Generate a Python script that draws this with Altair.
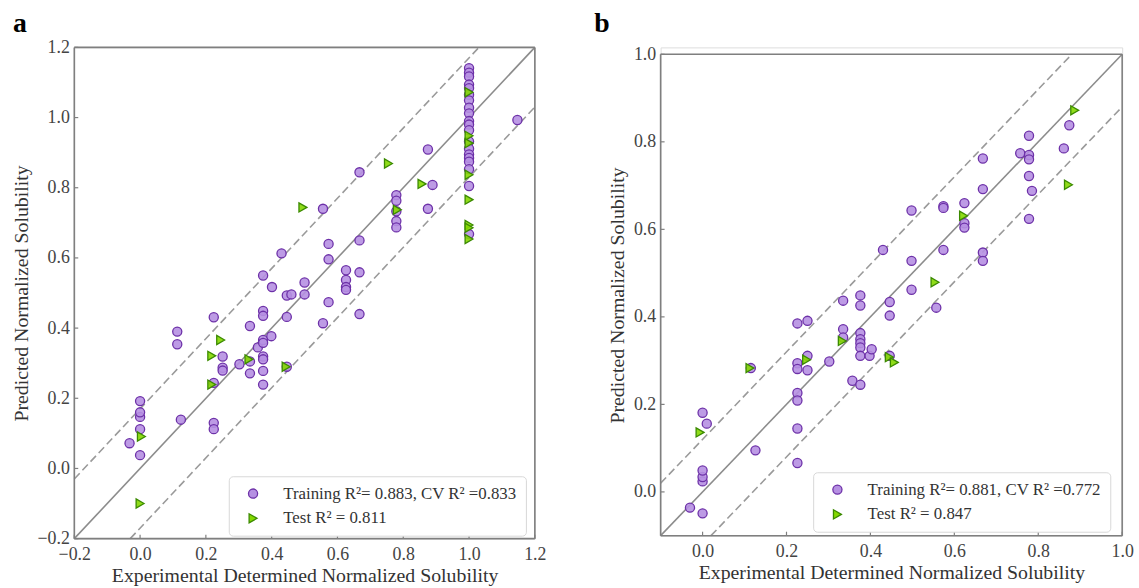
import altair as alt
import pandas as pd

FONT = "Liberation Serif"

# ---------------- Panel a ----------------
a_train_x = [-0.032, 0.0, 0.0, 0.0, 0.0, 0.0, 0.113, 0.113, 0.124, 0.224, 0.224, 0.224, 0.224,
             0.251, 0.251, 0.251, 0.302, 0.334, 0.334, 0.334, 0.358, 0.374, 0.374, 0.374, 0.374,
             0.374, 0.374, 0.374, 0.374, 0.374, 0.399, 0.401, 0.43, 0.446, 0.46, 0.446, 0.446,
             0.5, 0.5, 0.556, 0.556, 0.573, 0.573, 0.573, 0.626, 0.626, 0.626, 0.626, 0.667,
             0.667, 0.667, 0.667, 0.779, 0.779, 0.779, 0.779, 0.779, 0.875, 0.889, 0.875, 1.147,
             1.0, 1.0, 1.0, 1.0, 1.0, 1.0, 1.0, 1.0, 1.0, 1.0, 1.0, 1.0, 1.0, 1.0, 1.0, 1.0,
             1.0, 1.0, 1.0, 1.0]
a_train_y = [0.072, 0.038, 0.112, 0.147, 0.16, 0.192, 0.39, 0.354, 0.139, 0.431, 0.13, 0.112, 0.244,
             0.319, 0.287, 0.279, 0.297, 0.271, 0.406, 0.305, 0.345, 0.55, 0.449, 0.435, 0.366,
             0.358, 0.319, 0.311, 0.278, 0.239, 0.377, 0.517, 0.613, 0.493, 0.496, 0.432, 0.29,
             0.53, 0.496, 0.74, 0.414, 0.64, 0.596, 0.474, 0.565, 0.537, 0.517, 0.509, 0.844,
             0.65, 0.559, 0.44, 0.779, 0.763, 0.733, 0.705, 0.687, 0.909, 0.808, 0.74, 0.993,
             1.141, 1.128, 1.117, 1.094, 1.084, 1.065, 1.049, 1.028, 1.012, 0.99, 0.98, 0.964,
             0.932, 0.911, 0.895, 0.885, 0.874, 0.853, 0.805, 0.668]
a_test_x = [0.0, 0.004, 0.218, 0.245, 0.218, 0.331, 0.444, 0.495, 0.755, 0.782, 0.857,
            1.0, 1.0, 1.0, 1.0, 1.0, 1.0, 1.0, 1.0]
a_test_y = [-0.1, 0.091, 0.321, 0.366, 0.239, 0.311, 0.29, 0.744, 0.869, 0.737, 0.811,
            1.072, 0.948, 0.927, 0.837, 0.766, 0.694, 0.686, 0.654]
a_labels = ["Training R²= 0.883, CV R² =0.833", "Test R² = 0.811"]
a_ticks = [-0.2, 0.0, 0.2, 0.4, 0.6, 0.8, 1.0, 1.2]
a_domain = [-0.2, 1.2]
a_band = 0.17

# ---------------- Panel b ----------------
b_train_x = [-0.03, 0.0, 0.0, 0.0, 0.0, 0.0, 0.01, 0.115, 0.126, 0.226, 0.226, 0.226, 0.226,
             0.226, 0.226, 0.226, 0.25, 0.25, 0.25, 0.302, 0.335, 0.335, 0.335, 0.357, 0.376,
             0.376, 0.376, 0.376, 0.376, 0.376, 0.376, 0.376, 0.398, 0.403, 0.43, 0.446, 0.446,
             0.446, 0.498, 0.498, 0.498, 0.557, 0.574, 0.574, 0.574, 0.624, 0.624, 0.624, 0.668,
             0.668, 0.668, 0.668, 0.757, 0.778, 0.778, 0.778, 0.778, 0.778, 0.785, 0.861, 0.874]
b_train_y = [-0.036, -0.049, 0.024, 0.034, 0.049, 0.181, 0.156, 0.283, 0.095, 0.385, 0.294, 0.281,
             0.226, 0.209, 0.145, 0.066, 0.391, 0.311, 0.278, 0.298, 0.437, 0.372, 0.353, 0.254,
             0.449, 0.426, 0.363, 0.349, 0.34, 0.33, 0.311, 0.245, 0.311, 0.326, 0.553, 0.434,
             0.403, 0.311, 0.643, 0.528, 0.462, 0.421, 0.653, 0.649, 0.553, 0.66, 0.614, 0.604,
             0.762, 0.692, 0.547, 0.528, 0.774, 0.814, 0.77, 0.76, 0.722, 0.624, 0.688, 0.785, 0.838]
b_test_x = [-0.006, 0.113, 0.248, 0.333, 0.445, 0.457, 0.554, 0.622, 0.872, 0.887]
b_test_y = [0.136, 0.283, 0.302, 0.345, 0.308, 0.296, 0.479, 0.631, 0.702, 0.872]
b_labels = ["Training R²= 0.881, CV R² =0.772", "Test R² = 0.847"]
b_ticks = [0.0, 0.2, 0.4, 0.6, 0.8, 1.0]
b_domain = [-0.1, 1.0]
b_band = 0.12

X_TITLE = "Experimental Determined Normalized Solubility"
Y_TITLE = "Predicted Normalized Solubility"

SHAPES = ["circle", "triangle-right"]
FILLS = ["#b690e2", "#84d800"]
STROKES = ["#6d31a8", "#3b8a00"]
FRAME = "#7f7f7f"

LABEL_EXPR = "replace(format(datum.value, '.1f'), '-', '\u2212')"


def axis(title, orient, ticks, label_pad, title_pad):
    return alt.Axis(title=title, orient=orient, values=ticks, domain=False, grid=False,
                    ticks=False, labelPadding=label_pad, labelFont=FONT, labelFontSize=18,
                    labelColor="#444444", titleFont=FONT, titleFontSize=20,
                    titleFontWeight="normal", titleColor="#333333", titlePadding=title_pad,
                    labelFlush=False, labelOverlap=False, labelExpr=LABEL_EXPR)


def panel(tx, ty, sx, sy, labels, ticks, dom, band, W, H, top_gap, letter, t_offset, t_dx,
          lx, ly):
    d0, d1 = dom
    pts = pd.DataFrame({
        "x": tx + sx,
        "y": ty + sy,
        "s": [labels[0]] * len(tx) + [labels[1]] * len(sx),
    })
    # identity line and +/- band lines, kept inside the square domain
    lines = pd.DataFrame({
        "x": [d0, d1, d0, d1 - band, d0 + band, d1],
        "y": [d0, d1, d0 + band, d1, d0, d1 - band],
        "k": ["id", "id", "up", "up", "lo", "lo"],
    })
    frame = pd.DataFrame({
        "x": [d0, d0, d0, d1],
        "x2": [d1, d1, d0, d1],
        "y": [d1, d0, d0, d0],
        "y2": [d1, d0, d1, d1],
    })
    tk = pd.DataFrame({"v": ticks})
    xs = alt.Scale(domain=dom, nice=False, zero=False)
    ys = alt.Scale(domain=dom, nice=False, zero=False, range=[H, top_gap])
    xa = axis(X_TITLE, "bottom", ticks, 7, 2)
    ya = axis(Y_TITLE, "left", ticks, 5, 6)

    ident = alt.Chart(lines[lines.k == "id"]).mark_line(
        color="#8c8c8c", strokeWidth=1.6).encode(
        x=alt.X("x:Q", scale=xs, axis=xa),
        y=alt.Y("y:Q", scale=ys, axis=ya),
    )
    dashed = alt.Chart(lines[lines.k != "id"]).mark_line(
        color="#9a9a9a", strokeWidth=1.6, strokeDash=[8, 4]).encode(
        x=alt.X("x:Q", scale=xs, axis=xa),
        y=alt.Y("y:Q", scale=ys, axis=ya),
        detail="k:N",
    )
    box = alt.Chart(frame).mark_rule(color=FRAME, strokeWidth=1.6).encode(
        x=alt.X("x:Q", scale=xs, axis=xa), x2="x2:Q",
        y=alt.Y("y:Q", scale=ys, axis=ya), y2="y2:Q",
    )
    xt = alt.Chart(tk).mark_rule(color=FRAME, strokeWidth=1.2).encode(
        x=alt.X("v:Q", scale=xs, axis=xa),
        y=alt.value(H), y2=alt.value(H - 4),
    )
    yt = alt.Chart(tk).mark_rule(color=FRAME, strokeWidth=1.2).encode(
        y=alt.Y("v:Q", scale=ys, axis=ya),
        x=alt.value(0), x2=alt.value(4),
    )
    legend = alt.Legend(title=None, orient="none", legendX=lx, legendY=ly,
                        labelFont=FONT, labelFontSize=17, labelColor="#333333",
                        fillColor="white", strokeColor="#d8d8d8", cornerRadius=4,
                        padding=9, symbolOffset=7, labelOffset=22, rowPadding=7,
                        symbolSize=85, symbolStrokeWidth=1.3, labelLimit=400)
    points = alt.Chart(pts).mark_point(filled=True, size=85, opacity=1, fillOpacity=0.9,
                                       strokeWidth=1.3).encode(
        x=alt.X("x:Q", scale=xs, axis=xa),
        y=alt.Y("y:Q", scale=ys, axis=ya),
        shape=alt.Shape("s:N", scale=alt.Scale(domain=labels, range=SHAPES), legend=legend),
        fill=alt.Fill("s:N", scale=alt.Scale(domain=labels, range=FILLS), legend=legend),
        stroke=alt.Stroke("s:N", scale=alt.Scale(domain=labels, range=STROKES), legend=legend),
    )
    return alt.layer(ident, dashed, box, xt, yt, points).properties(
        width=W, height=H,
        title=alt.TitleParams(letter, anchor="start", frame="group", font=FONT, fontSize=28,
                              fontWeight="bold", color="black", offset=t_offset, dx=t_dx),
    )


pa = panel(a_train_x, a_train_y, a_test_x, a_test_y, a_labels, a_ticks, a_domain, a_band,
           465, 496, 0, "a", 1, -62, 156, 433)
pb = panel(b_train_x, b_train_y, b_test_x, b_test_y, b_labels, b_ticks, b_domain, b_band,
           466, 493, 7, "b", 8, -67, 154, 429)

chart = alt.hconcat(pa, pb, spacing=47).resolve_scale(
    x="independent", y="independent", shape="independent", fill="independent",
    stroke="independent").properties(
    padding={"left": 10, "top": 6, "right": 5, "bottom": 0}
).configure_view(stroke="transparent").configure(background="white")

chart.save("out.html", embed_options={"renderer": "svg", "actions": False})
